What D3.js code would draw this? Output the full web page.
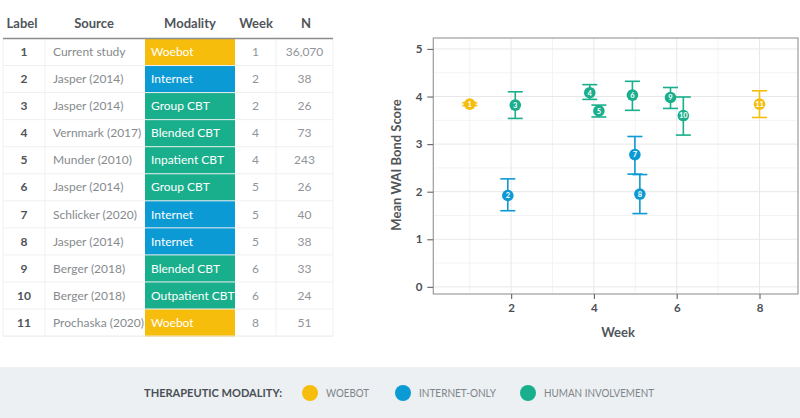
<!DOCTYPE html>
<html><head><meta charset="utf-8">
<script src="https://cdn.jsdelivr.net/npm/d3@7"></script>
<style>
html,body{margin:0;padding:0;background:#fff;}
svg{display:block;font-family:Lato,"Noto Sans",sans-serif;}
</style></head>
<body><svg id="c" width="800" height="418"></svg>
<script>
// ---- data ----
const labels = [1,2,3,4,5,6,7,8,9,10,11];
const sources = ["Current study","Jasper (2014)","Jasper (2014)","Vernmark (2017)","Munder (2010)","Jasper (2014)","Schlicker (2020)","Jasper (2014)","Berger (2018)","Berger (2018)","Prochaska (2020)"];
const modalities = ["Woebot","Internet","Group CBT","Blended CBT","Inpatient CBT","Group CBT","Internet","Internet","Blended CBT","Outpatient CBT","Woebot"];
const groups = ["woebot","internet","human","human","human","human","internet","internet","human","human","woebot"];
const weeks = [1,2,2,4,4,5,5,5,6,6,8];
const ns = ["36,070","38","26","73","243","26","40","38","33","24","51"];
// plotted (dodged) week positions, means and CI bounds
const xPos = [1.0,1.92,2.1,3.9,4.12,4.93,4.99,5.11,5.85,6.16,8.0];
const means = [3.84,1.92,3.82,4.08,3.70,4.03,2.78,1.95,3.98,3.60,3.84];
const lows  = [3.81,1.60,3.54,3.94,3.57,3.71,2.37,1.54,3.75,3.19,3.56];
const highs = [3.87,2.27,4.10,4.25,3.82,4.32,3.16,2.36,4.19,3.99,4.12];
const xTicks = [2,4,6,8];
const yTicks = [0,1,2,3,4,5];
const legendKeys = ["woebot","internet","human"];
const legendLabels = ["WOEBOT","INTERNET-ONLY","HUMAN INVOLVEMENT"];
const headers = ["Label","Source","Modality","Week","N"];

const color = d3.scaleOrdinal().domain(legendKeys).range(["#F6BD0C","#0B9AD4","#19AE8C"]);
const svg = d3.select("#c");

// ---- table ----
const tTop = 38.5, rowH = 27.05;
const colEdges = [3,45,145,235,276,333];
const rowY = d3.scaleLinear().domain([0,11]).range([tTop, tTop+11*rowH]);
const tg = svg.append("g");
// modality cells
tg.selectAll("rect.mod").data(labels).join("rect")
  .attr("x",colEdges[2]).attr("width",colEdges[3]-colEdges[2])
  .attr("y",(d,i)=>rowY(i)).attr("height",rowH+0.5)
  .attr("fill",(d,i)=>color(groups[i]));
// horizontal row lines
tg.selectAll("line.row").data(d3.range(1,12)).join("line")
  .attr("x1",colEdges[0]).attr("x2",colEdges[5])
  .attr("y1",d=>rowY(d)).attr("y2",d=>rowY(d))
  .attr("stroke",d=>d===11?"#e8e8e8":"#f0f0f0").attr("stroke-width",1);
// vertical lines
[0,1,4,5].forEach(k=>{
  tg.append("line").attr("x1",colEdges[k]).attr("x2",colEdges[k])
    .attr("y1",tTop).attr("y2",rowY(11)).attr("stroke","#f0f0f0");
});
// header line
tg.append("line").attr("x1",colEdges[0]).attr("x2",colEdges[5])
  .attr("y1",tTop).attr("y2",tTop).attr("stroke","#8a8d90").attr("stroke-width",1.5);
// headers
const hx = [22,94,190,256,306];
tg.selectAll("text.h").data(headers).join("text")
  .attr("x",(d,i)=>hx[i]).attr("y",27.5).attr("text-anchor","middle")
  .attr("font-size",13).attr("font-weight",700).attr("fill","#50555a").text(d=>d);
// rows
const rows = tg.selectAll("g.r").data(labels).join("g")
  .attr("transform",(d,i)=>`translate(0,${rowY(i)+rowH/2+4.2})`);
rows.append("text").attr("x",24).attr("text-anchor","middle").attr("font-size",12)
  .attr("font-weight",700).attr("fill","#50555a").text(d=>d);
rows.append("text").attr("x",53).attr("font-size",12).attr("fill","#868a8e").text((d,i)=>sources[i]);
rows.append("text").attr("x",151).attr("font-size",12).attr("fill","#fff").text((d,i)=>modalities[i]);
rows.append("text").attr("x",255.5).attr("text-anchor","middle").attr("font-size",12).attr("fill","#909498").text((d,i)=>weeks[i]);
rows.append("text").attr("x",304.5).attr("text-anchor","middle").attr("font-size",12).attr("fill","#909498").text((d,i)=>ns[i]);

// ---- chart ----
const pL=433.3, pR=798, pT=38, pB=294;
const x = d3.scaleLinear().domain([0.12,8.93]).range([pL,pR]);
const y = d3.scaleLinear().domain([-0.15,5.23]).range([pB,pT]);
const cg = svg.append("g");
// minor grid
cg.selectAll("line.mx").data([1,3,5,7]).join("line")
  .attr("x1",d=>x(d)).attr("x2",d=>x(d)).attr("y1",pT).attr("y2",pB).attr("stroke","#f3f3f3");
cg.selectAll("line.my").data([0.5,1.5,2.5,3.5,4.5]).join("line")
  .attr("y1",d=>y(d)).attr("y2",d=>y(d)).attr("x1",pL).attr("x2",pR).attr("stroke","#f3f3f3");
// major grid
cg.selectAll("line.gx").data(xTicks).join("line")
  .attr("x1",d=>x(d)).attr("x2",d=>x(d)).attr("y1",pT).attr("y2",pB).attr("stroke","#e8e8e8");
cg.selectAll("line.gy").data(yTicks).join("line")
  .attr("y1",d=>y(d)).attr("y2",d=>y(d)).attr("x1",pL).attr("x2",pR).attr("stroke","#e8e8e8");
// panel border
cg.append("rect").attr("x",pL).attr("y",pT).attr("width",pR-pL).attr("height",pB-pT)
  .attr("fill","none").attr("stroke","#9a9da0").attr("stroke-width",1.2);
// axes
const xAxis = cg.append("g").attr("transform",`translate(0,${pB})`)
  .call(d3.axisBottom(x).tickValues(xTicks).tickSize(5).tickPadding(5).tickFormat(d3.format("d")));
const yAxis = cg.append("g").attr("transform",`translate(${pL},0)`)
  .call(d3.axisLeft(y).tickValues(yTicks).tickSize(6).tickPadding(5).tickFormat(d3.format("d")));
[xAxis,yAxis].forEach(a=>{
  a.select(".domain").remove();
  a.selectAll(".tick line").attr("stroke","#6b6f73").attr("stroke-width",1.2);
  a.selectAll(".tick text").attr("font-size",11.5).attr("font-weight",700).attr("fill","#4a4f55")
   .attr("font-family","Lato, sans-serif");
});
// axis titles
cg.append("text").attr("x",618).attr("y",337).attr("text-anchor","middle")
  .attr("font-size",13).attr("font-weight",700).attr("fill","#50555a").text("Week");
cg.append("text").attr("transform","translate(401,165) rotate(-90)").attr("text-anchor","middle")
  .attr("font-size",13).attr("font-weight",700).attr("fill","#50555a").text("Mean WAI Bond Score");

// error bars
const eb = cg.selectAll("g.eb").data(labels).join("g").attr("stroke",(d,i)=>color(groups[i]))
  .attr("stroke-width",1.6).attr("fill","none");
eb.append("line").attr("x1",(d,i)=>x(xPos[i])).attr("x2",(d,i)=>x(xPos[i]))
  .attr("y1",(d,i)=>y(lows[i])).attr("y2",(d,i)=>y(highs[i]));
eb.append("line").attr("x1",(d,i)=>x(xPos[i])-7.5).attr("x2",(d,i)=>x(xPos[i])+7.5)
  .attr("y1",(d,i)=>y(lows[i])).attr("y2",(d,i)=>y(lows[i]));
eb.append("line").attr("x1",(d,i)=>x(xPos[i])-7.5).attr("x2",(d,i)=>x(xPos[i])+7.5)
  .attr("y1",(d,i)=>y(highs[i])).attr("y2",(d,i)=>y(highs[i]));
// points
const pts = cg.selectAll("g.pt").data(labels).join("g")
  .attr("transform",(d,i)=>`translate(${x(xPos[i])},${y(means[i])})`);
pts.append("circle").attr("r",5.8).attr("fill",(d,i)=>color(groups[i]));
pts.append("text").attr("text-anchor","middle").attr("y",2.8).attr("font-size",7.5)
  .attr("font-weight",700).attr("fill","#fff").text(d=>d);

// ---- legend band ----
svg.append("rect").attr("x",0).attr("y",367).attr("width",800).attr("height",51).attr("fill","#ECF0F2");
svg.append("text").attr("x",144).attr("y",396.8).attr("font-size",11.2).attr("font-weight",700)
  .attr("fill","#4a4f55").attr("textLength",138).attr("lengthAdjust","spacingAndGlyphs")
  .text("THERAPEUTIC MODALITY:");
const lx = [310,403,528];
const lw = [43,77,110];
const lg = svg.selectAll("g.lg").data(legendKeys).join("g")
  .attr("transform",(d,i)=>`translate(${lx[i]},393)`);
lg.append("circle").attr("r",8).attr("fill",d=>color(d));
lg.append("text").attr("x",16).attr("y",4).attr("font-size",11).attr("fill","#80848a")
  .attr("textLength",(d,i)=>lw[i]).attr("lengthAdjust","spacingAndGlyphs")
  .text((d,i)=>legendLabels[i]);
</script></body></html>
